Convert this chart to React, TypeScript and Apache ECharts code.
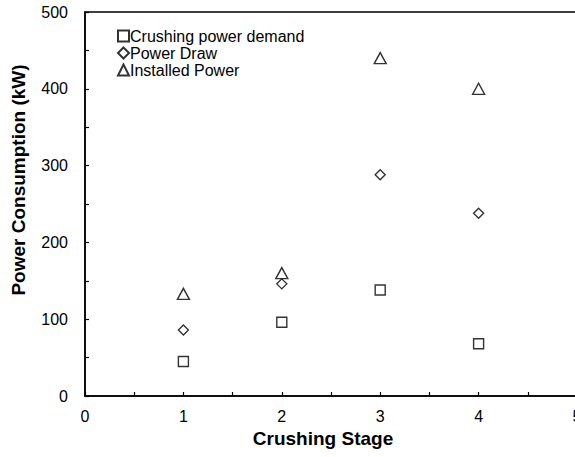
import React, { useEffect, useRef } from "react";
import * as echarts from "echarts";

const stages = [1, 2, 3, 4];
const crushingDemand = [45, 96, 138, 68];
const powerDraw = [86, 146, 288, 238];
const installedPower = [133, 160, 440, 400];
const seriesNames = ["Crushing power demand", "Power Draw", "Installed Power"];
const xTitle = "Crushing Stage";
const yTitle = "Power Consumption (kW)";

const FONT = "Arial, 'Liberation Sans', sans-serif";

export default function App() {
  const ref = useRef<HTMLDivElement>(null);
  useEffect(() => {
    document.body.style.margin = "0";
    const chart = echarts.init(ref.current!, null, { renderer: "svg" });
    const mk = (vals: number[]) => vals.map((v, i) => [stages[i], v]);
    const itemStyle = { color: "#ffffff", borderColor: "#000000", borderWidth: 1.4 };
    const titleStyle = { fontFamily: FONT, fontSize: 19, fontWeight: "bold", fill: "#000" };
    chart.setOption({
      animation: false,
      backgroundColor: "#ffffff",
      grid: {
        left: 85,
        right: -2,
        top: 12,
        bottom: 61,
        outerBoundsMode: "none",
        containLabel: false,
        show: true,
        borderColor: "#000",
        borderWidth: 1.5,
        backgroundColor: "transparent",
      },
      graphic: [
        {
          type: "text",
          x: 323,
          y: 438,
          style: { ...titleStyle, text: xTitle, align: "center", verticalAlign: "middle" },
        },
        {
          type: "text",
          x: 18.5,
          y: 180,
          rotation: Math.PI / 2,
          style: { ...titleStyle, text: yTitle, align: "center", verticalAlign: "middle" },
        },
      ],
      legend: {
        orient: "vertical",
        left: 112,
        top: 23,
        itemGap: 1,
        itemWidth: 11,
        itemHeight: 11,
        textStyle: { fontFamily: FONT, fontSize: 16, color: "#000", padding: [0, 0, 0, -4] },
        data: seriesNames.map((n) => ({ name: n })),
      },
      xAxis: {
        type: "value",
        min: 0,
        max: 5,
        interval: 0.5,
        axisLine: { show: true, lineStyle: { color: "#000", width: 1.5 } },
        axisTick: { show: true, inside: true, length: 4, lineStyle: { color: "#000", width: 1.2 } },
        axisLabel: {
          fontFamily: FONT,
          fontSize: 16,
          color: "#000",
          margin: 12,
          showMaxLabel: true,
          formatter: (v: number) => (Number.isInteger(v) ? String(v) : ""),
        },
        splitLine: { show: false },
      },
      yAxis: {
        type: "value",
        min: 0,
        max: 500,
        interval: 50,
        axisLine: { show: true, lineStyle: { color: "#000", width: 1.5 } },
        axisTick: { show: true, inside: true, length: 4, lineStyle: { color: "#000", width: 1.2 } },
        axisLabel: {
          fontFamily: FONT,
          fontSize: 16,
          color: "#000",
          margin: 17,
          formatter: (v: number) => (v % 100 === 0 ? String(v) : ""),
        },
        splitLine: { show: false },
      },
      series: [
        { name: seriesNames[0], type: "scatter", symbol: "rect", symbolSize: 10, itemStyle, data: mk(crushingDemand) },
        { name: seriesNames[1], type: "scatter", symbol: "diamond", symbolSize: 10, itemStyle, data: mk(powerDraw) },
        { name: seriesNames[2], type: "scatter", symbol: "triangle", symbolSize: [12, 11], itemStyle, data: mk(installedPower) },
      ],
    });
    return () => chart.dispose();
  }, []);
  return <div ref={ref} style={{ width: 575, height: 457 }} />;
}
